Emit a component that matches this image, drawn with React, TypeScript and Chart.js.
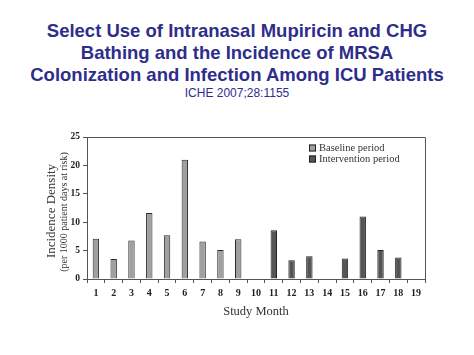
import React, { useEffect, useRef } from "react";
import { Chart, registerables } from "chart.js";

Chart.register(...registerables);

const months = ["1", "2", "3", "4", "5", "6", "7", "8", "9", "10", "11", "12", "13", "14", "15", "16", "17", "18", "19"];
const baseline = [7.1, 3.5, 6.8, 11.6, 7.7, 21.0, 6.6, 5.1, 7.0, null, null, null, null, null, null, null, null, null, null];
const intervention = [null, null, null, null, null, null, null, null, null, null, 8.6, 3.3, 4.0, null, 3.6, 11.0, 5.1, 3.8, null];
const yTicks = [0, 5, 10, 15, 20, 25];

const SERIF = "'Liberation Serif', 'DejaVu Serif', serif";

const boxAndLegend = {
  id: "boxAndLegend",
  afterDatasetsDraw(chart: any) {
    const { ctx, chartArea } = chart;
    ctx.save();
    ctx.strokeStyle = "#555";
    ctx.lineWidth = 1;
    ctx.beginPath();
    ctx.moveTo(chartArea.left + 0.5, chartArea.top + 0.5);
    ctx.lineTo(chartArea.right + 0.5, chartArea.top + 0.5);
    ctx.lineTo(chartArea.right + 0.5, chartArea.bottom + 0.5);
    ctx.stroke();
    // legend
    const lx = chartArea.left + 222;
    let ly = chartArea.top + 11;
    ctx.font = "10.5px " + SERIF;
    ctx.textBaseline = "middle";
    chart.data.datasets.forEach((ds: any) => {
      ctx.fillStyle = ds.backgroundColor;
      ctx.strokeStyle = "#222";
      ctx.fillRect(lx, ly - 3.5, 7, 7);
      ctx.strokeRect(lx + 0.5, ly - 3.5 + 0.5, 6, 6);
      ctx.fillStyle = "#333";
      ctx.fillText(ds.label, lx + 10, ly);
      ly += 11;
    });
    ctx.restore();
  },
};

export default function App() {
  const ref = useRef<HTMLCanvasElement>(null);
  useEffect(() => {
    const chart = new Chart(ref.current!, {
      type: "bar",
      data: {
        labels: months,
        datasets: [
          { label: "Baseline period", data: baseline, backgroundColor: "#a0a0a0", borderColor: "#2a2a2a", borderWidth: 1, grouped: false, barPercentage: 0.36, categoryPercentage: 1 } as any,
          { label: "Intervention period", data: intervention, backgroundColor: "#555555", borderColor: "#222", borderWidth: 1, grouped: false, barPercentage: 0.36, categoryPercentage: 1 } as any,
        ],
      },
      options: {
        animation: false,
        responsive: false,
        maintainAspectRatio: false,
        layout: { padding: { left: 40, right: 49, top: 137, bottom: 36 } },
        plugins: { legend: { display: false }, tooltip: { enabled: false } },
        scales: {
          x: {
            offset: true,
            grid: { display: true, offset: true, drawOnChartArea: false, drawTicks: true, tickLength: 4, color: "#555" },
            border: { display: true, color: "#555" },
            ticks: { color: "#222", font: { family: SERIF, size: 10, weight: "bold" }, padding: 4, maxRotation: 0, autoSkip: false },
            title: { display: true, text: "Study Month", color: "#333", font: { family: SERIF, size: 12.5 }, padding: { top: 4, bottom: 0 } },
            afterFit: (s: any) => { s.height = 40; },
          },
          y: {
            min: 0,
            max: 25,
            afterBuildTicks: (s: any) => { s.ticks = yTicks.map((v) => ({ value: v })); },
            grid: { display: true, drawOnChartArea: false, drawTicks: true, tickLength: 4, color: "#555" },
            border: { display: true, color: "#555" },
            ticks: { color: "#222", font: { family: SERIF, size: 9.5, weight: "bold" }, padding: 3 },
            afterFit: (s: any) => { s.width = 47; },
          },
        },
      },
      plugins: [boxAndLegend],
    });
    return () => chart.destroy();
  }, []);

  return (
    <div style={{ position: "absolute", left: 0, top: 0, width: 474, height: 355, background: "#fff", overflow: "hidden" }}>
      <div style={{ position: "absolute", left: 0, top: 20, width: 474, textAlign: "center", fontFamily: "'Liberation Sans', Arial, sans-serif", fontWeight: "bold", fontSize: 18.5, lineHeight: "22px", color: "#2e2e8a" }}>
        Select Use of Intranasal Mupiricin and CHG<br />Bathing and the Incidence of MRSA<br />Colonization and Infection Among ICU Patients
      </div>
      <div style={{ position: "absolute", left: 0, top: 86, width: 474, textAlign: "center", fontFamily: "'Liberation Sans', Arial, sans-serif", fontSize: 12, color: "#2e2e8a" }}>
        ICHE 2007;28:1155
      </div>
      <canvas ref={ref} width={474} height={355} style={{ position: "absolute", left: 0, top: 0 }} />
      <div style={{ position: "absolute", left: 51, top: 211, width: 0, height: 0 }}>
        <div style={{ position: "absolute", transform: "translate(-50%, -50%) rotate(-90deg)", whiteSpace: "nowrap", fontFamily: SERIF, fontSize: 13, color: "#333", lineHeight: "14px" }}>Incidence Density</div>
      </div>
      <div style={{ position: "absolute", left: 63, top: 212, width: 0, height: 0 }}>
        <div style={{ position: "absolute", transform: "translate(-50%, -50%) rotate(-90deg)", whiteSpace: "nowrap", fontFamily: SERIF, fontSize: 10, color: "#333", lineHeight: "11px" }}>(per 1000 patient days at risk)</div>
      </div>
    </div>
  );
}
